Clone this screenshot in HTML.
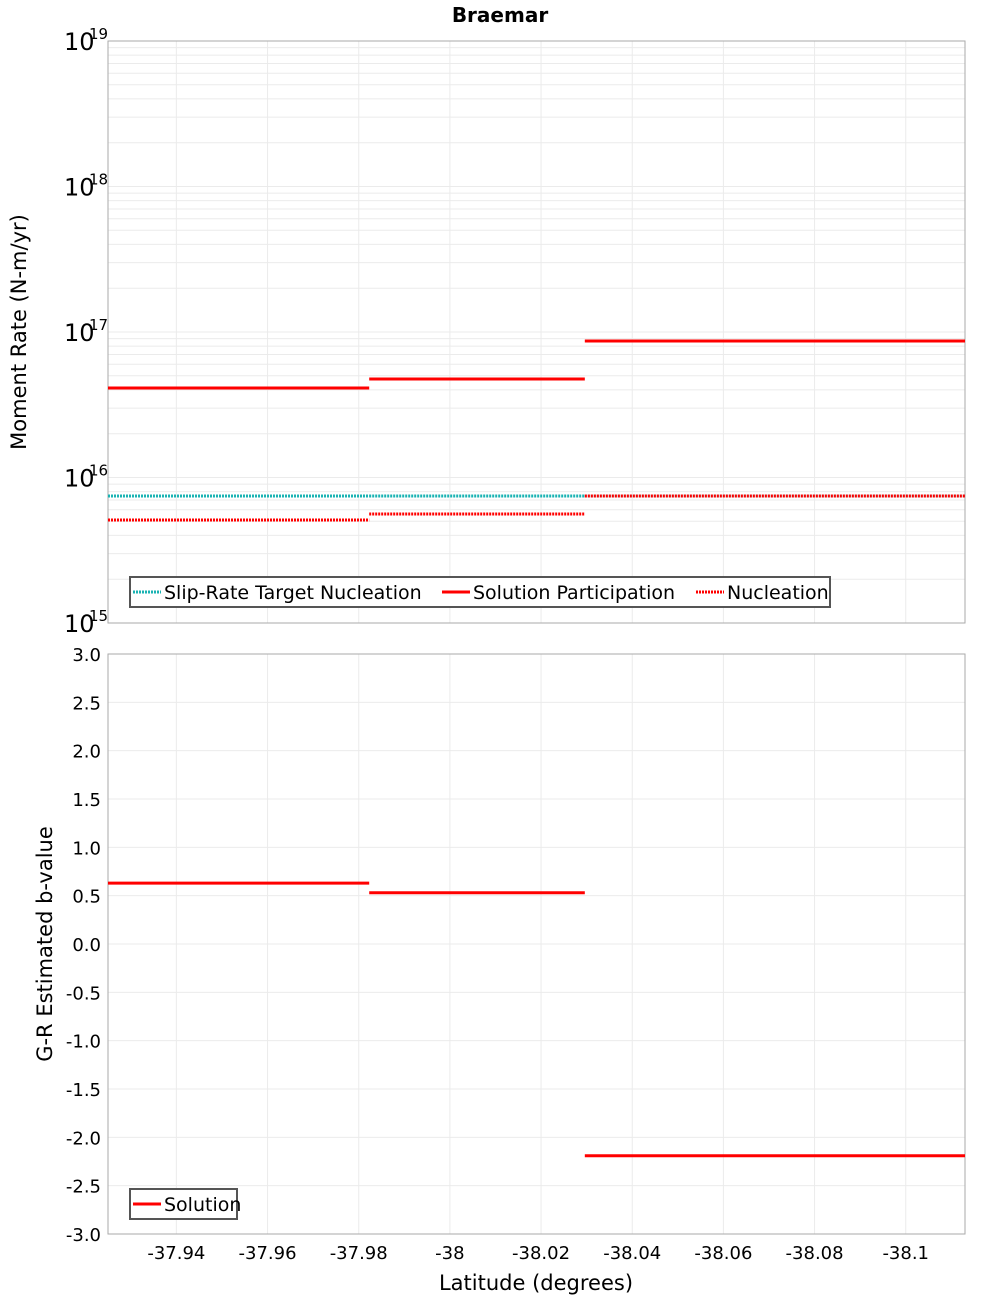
<!DOCTYPE html>
<html><head><meta charset="utf-8"><style>
body{margin:0;background:#fff}
svg{display:block;font-family:"DejaVu Sans","Liberation Sans",sans-serif}
</style></head><body>
<svg id="chart" width="1000" height="1300" viewBox="0 0 1000 1300">
<text x="500" y="22" text-anchor="middle" font-size="20" font-weight="bold">Braemar</text>
<g id="top"></g>
<g id="bot"></g>
<text transform="translate(26,332) rotate(-90)" text-anchor="middle" font-size="21">Moment Rate (N-m/yr)</text>
<text transform="translate(52,944) rotate(-90)" text-anchor="middle" font-size="21">G-R Estimated b-value</text>
<text x="536" y="1290" text-anchor="middle" font-size="21">Latitude (degrees)</text>
</svg>
<script>
const xTicks=[-37.94,-37.96,-37.98,-38,-38.02,-38.04,-38.06,-38.08,-38.1];
const xTickLabels=["-37.94","-37.96","-37.98","-38","-38.02","-38.04","-38.06","-38.08","-38.1"];
const segStart=[-37.925,-37.9823,-38.0296];
const segEnd=[-37.9823,-38.0296,-38.113];
const targetNucleation=[7.46e15,7.46e15,7.46e15];
const solutionParticipation=[4.12e16,4.75e16,8.67e16];
const nucleation=[5.1e15,5.61e15,7.46e15];
const bValues=[0.63,0.53,-2.19];
const bTicks=[3,2.5,2,1.5,1,0.5,0,-0.5,-1,-1.5,-2,-2.5,-3];
const logTicks=[15,16,17,18,19];

const NS="http://www.w3.org/2000/svg";
const L=108,R=965;
const xS=v=>L+(v-(-37.925))/((-38.113)-(-37.925))*(R-L);
const T1=41,B1=623;
const yLog=v=>B1-(Math.log10(v)-15)/4*(B1-T1);
const T2=654,B2=1234;
const yB=v=>B2-(v+3)/6*(B2-T2);
function mk(par,tag,attrs){const e=document.createElementNS(NS,tag);for(const k in attrs)e.setAttribute(k,attrs[k]);par.appendChild(e);return e;}
const topG=document.getElementById('top'),botG=document.getElementById('bot');

for(let d=15;d<19;d++){for(let m=1;m<10;m++){const y=yLog(m*Math.pow(10,d));
const g=mk(topG,'line',{x1:L,x2:R,y1:y,y2:y,stroke:'#ebebeb','stroke-width':1});

}}
for(const v of bTicks){const y=yB(v);
const g=mk(botG,'line',{x1:L,x2:R,y1:y,y2:y,stroke:'#ebebeb'});


const t=mk(botG,'text',{x:101,y:y+7,'text-anchor':'end','font-size':18});
t.textContent=v.toFixed(1);

}
xTicks.forEach((v,i)=>{const x=xS(v);
for(const [p,t0,b0] of [[topG,T1,B1],[botG,T2,B2]]){
const g=mk(p,'line',{x1:x,x2:x,y1:t0,y2:b0,stroke:'#ebebeb'});

}
const t=mk(botG,'text',{x:x,y:1259,'text-anchor':'middle','font-size':18});
t.textContent=xTickLabels[i];

});
for(const d of logTicks){const y=yLog(Math.pow(10,d));
const t=mk(topG,'text',{x:64,y:y+9,'font-size':24});
t.textContent='10';


const s=mk(topG,'text',{x:89,y:y-2,'font-size':15});
s.textContent=String(d);

}
for(const [p,t0,b0] of [[topG,T1,B1],[botG,T2,B2]]){
const r=mk(p,'rect',{x:L,y:t0,width:R-L,height:b0-t0,fill:'none',stroke:'#aaa'});

}

function seg(p,arr,ys,color,dash,name){arr.forEach((v,i)=>{const y=ys(v);
const a={x1:xS(segStart[i]),x2:xS(segEnd[i]),y1:y,y2:y,stroke:color,'stroke-width':3};
if(dash)a['stroke-dasharray']='2,1';
const l=mk(p,'line',a);

});}
seg(topG,targetNucleation,yLog,'#1ab3b3',true,'target-nucleation-segment');
seg(topG,solutionParticipation,yLog,'#ff0000',false,'solution-participation-segment');
seg(topG,nucleation,yLog,'#ff0000',true,'nucleation-segment');
seg(botG,bValues,yB,'#ff0000',false,'b-value-segment');

function legend(p,x,y,w,items,name){const g=mk(p,'g',{});


mk(g,'rect',{x:x,y:y,width:w,height:30,fill:'#fff',stroke:'#555','stroke-width':2});
let cx=x+3;items.forEach(([lab,col,dash,tw])=>{
const a={x1:cx,x2:cx+28,y1:y+15,y2:y+15,stroke:col,'stroke-width':3};if(dash)a['stroke-dasharray']='2,1';mk(g,'line',a);
const t=mk(g,'text',{x:cx+31,y:y+22,'font-size':19});t.textContent=lab;


cx+=31+tw+3;});}
legend(topG,130,577,700,[["Slip-Rate Target Nucleation","#1ab3b3",true,275],["Solution Participation","#ff0000",false,220],["Nucleation","#ff0000",true,110]],'top-legend');
legend(botG,130,1189,107,[["Solution","#ff0000",false,70]],'bottom-legend');
</script>
</body></html>
